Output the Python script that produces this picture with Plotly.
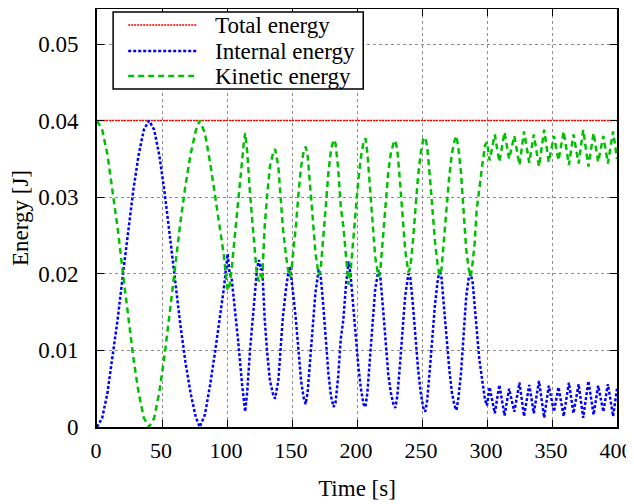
import plotly.graph_objects as go

# ---- data ----
time_s = [
    0, 4, 8, 12, 16, 20, 24, 28, 32, 36, 40, 44, 48, 52, 56, 60, 64, 68, 72, 76, 79,
    83, 87, 91, 95, 97.5, 100.5, 102, 103.5, 105, 108.5, 111.5, 113, 114, 115.5, 117.7,
    121.5, 123, 124.5, 126, 127, 129, 131, 133, 135.5, 137, 139.5, 141.5, 143, 145.5,
    147, 148.5, 150, 151.5, 153, 155, 157, 159, 160.5, 162, 164, 166, 168, 170.5,
    172, 174, 176, 178, 180, 182, 183.5, 185.5, 187.5, 189.5, 191.5, 193.5, 195, 197,
    199, 201, 203, 205, 206.5, 208, 210, 212, 214, 216.5, 218, 220, 222, 224, 226,
    228, 229.5, 231, 233, 235, 237, 239.5, 241, 243, 245, 247, 249, 251, 252.5, 254,
    256, 258, 260, 262, 263.5, 265, 267, 269, 271, 273, 275, 276.5, 278, 280, 282,
    284, 286, 287.5, 289, 290.5, 292, 294, 296, 298.5, 300,
    302, 306, 309.5, 313.5, 317, 321, 325, 328.5, 332.5, 336, 340, 344, 347.5, 351.5,
    355, 359, 363, 366.5, 370.5, 374, 378, 382, 385.5, 389.5, 393, 397, 400,
]

internal_energy = [
    0.0000, 0.0012, 0.0044, 0.0090, 0.0142, 0.0200, 0.0258, 0.0310, 0.0355, 0.0388,
    0.0400, 0.0388, 0.0354, 0.0306, 0.0250, 0.0192, 0.0135, 0.0085, 0.0044, 0.0013,
    0.0000, 0.0016, 0.0055, 0.0100, 0.0150, 0.0180, 0.0226, 0.0200, 0.0195, 0.0172,
    0.0114, 0.0057, 0.0030, 0.0020, 0.0045, 0.0100, 0.0175, 0.0205, 0.0218, 0.0205,
    0.0212, 0.0140, 0.0095, 0.0061, 0.0042, 0.0037, 0.0061, 0.0105, 0.0144, 0.0182,
    0.0200, 0.0209, 0.0190, 0.0165, 0.0140, 0.0095, 0.0060, 0.0038, 0.0030, 0.0045,
    0.0085, 0.0130, 0.0175, 0.0205, 0.0198, 0.0160, 0.0115, 0.0070, 0.0040, 0.0026,
    0.0032, 0.0065, 0.0115, 0.0140, 0.0185, 0.0216, 0.0200, 0.0165, 0.0120, 0.0080,
    0.0050, 0.0030, 0.0026, 0.0045, 0.0090, 0.0140, 0.0180, 0.0205, 0.0195, 0.0155,
    0.0110, 0.0070, 0.0045, 0.0030, 0.0025, 0.0040, 0.0080, 0.0125, 0.0170, 0.0200,
    0.0195, 0.0160, 0.0115, 0.0075, 0.0045, 0.0025, 0.0020, 0.0035, 0.0075, 0.0120,
    0.0160, 0.0190, 0.0205, 0.0195, 0.0160, 0.0115, 0.0075, 0.0045, 0.0028, 0.0022,
    0.0038, 0.0070, 0.0120, 0.0170, 0.0195, 0.0200, 0.0188, 0.0160, 0.0123, 0.0090,
    0.0065, 0.0035, 0.0028,
    0.0052, 0.0018, 0.0055, 0.0015, 0.0050, 0.0020, 0.0058, 0.0014, 0.0055, 0.0018,
    0.0060, 0.0012, 0.0054, 0.0020, 0.0052, 0.0014, 0.0058, 0.0018, 0.0056, 0.0012,
    0.0060, 0.0016, 0.0054, 0.0020, 0.0056, 0.0014, 0.0050,
]

kinetic_energy = [
    0.0400, 0.0388, 0.0356, 0.0310, 0.0258, 0.0200, 0.0142, 0.0090, 0.0045, 0.0012,
    0.0000, 0.0012, 0.0046, 0.0094, 0.0150, 0.0208, 0.0265, 0.0315, 0.0356, 0.0387,
    0.0400, 0.0384, 0.0345, 0.0300, 0.0250, 0.0225, 0.0178, 0.0185, 0.0205, 0.0232,
    0.0300, 0.0349, 0.0372, 0.0384, 0.0360, 0.0305, 0.0230, 0.0198, 0.0190, 0.0200,
    0.0192, 0.0262, 0.0305, 0.0340, 0.0358, 0.0363, 0.0340, 0.0298, 0.0260, 0.0222,
    0.0205, 0.0196, 0.0212, 0.0238, 0.0262, 0.0305, 0.0340, 0.0360, 0.0366, 0.0355,
    0.0318, 0.0272, 0.0228, 0.0198, 0.0205, 0.0242, 0.0288, 0.0332, 0.0362, 0.0375,
    0.0370, 0.0338, 0.0288, 0.0262, 0.0218, 0.0186, 0.0202, 0.0238, 0.0282, 0.0322,
    0.0352, 0.0372, 0.0377, 0.0358, 0.0312, 0.0262, 0.0222, 0.0196, 0.0206, 0.0248,
    0.0292, 0.0332, 0.0357, 0.0370, 0.0374, 0.0362, 0.0322, 0.0278, 0.0232, 0.0202,
    0.0208, 0.0242, 0.0288, 0.0328, 0.0357, 0.0376, 0.0378, 0.0366, 0.0328, 0.0282,
    0.0242, 0.0212, 0.0198, 0.0206, 0.0242, 0.0288, 0.0328, 0.0357, 0.0374, 0.0380,
    0.0364, 0.0332, 0.0282, 0.0232, 0.0206, 0.0196, 0.0215, 0.0240, 0.0282, 0.0312,
    0.0337, 0.0368, 0.0372,
    0.0348, 0.0382, 0.0346, 0.0385, 0.0350, 0.0380, 0.0342, 0.0386, 0.0345, 0.0382,
    0.0340, 0.0388, 0.0346, 0.0380, 0.0348, 0.0386, 0.0342, 0.0382, 0.0344, 0.0388,
    0.0340, 0.0384, 0.0346, 0.0380, 0.0344, 0.0386, 0.0350,
]

total_t = [0, 400]
total_energy = [0.0400, 0.0400]

series_names = ["Total energy", "Internal energy", "Kinetic energy"]

x_ticks = [0, 50, 100, 150, 200, 250, 300, 350, 400]
y_ticks = [0, 0.01, 0.02, 0.03, 0.04, 0.05]
y_tick_labels = ["0", "0.01", "0.02", "0.03", "0.04", "0.05"]

FONT = "Liberation Serif, Times New Roman, serif"
styles = [
    dict(color="rgb(255,0,0)", width=1.5, dash="2px,1px"),
    dict(color="rgb(0,0,255)", width=2.5, dash="3px,2px"),
    dict(color="rgb(0,192,0)", width=2.5, dash="6px,4px"),
]

fig = go.Figure()
fig.add_trace(go.Scatter(x=total_t, y=total_energy, mode="lines",
                         name=series_names[0], line=styles[0]))
fig.add_trace(go.Scatter(x=time_s, y=internal_energy, mode="lines",
                         name=series_names[1], line=styles[1]))
fig.add_trace(go.Scatter(x=time_s, y=kinetic_energy, mode="lines",
                         name=series_names[2], line=styles[2]))

axis_common = dict(
    showline=True, linecolor="black", linewidth=2, mirror="ticks",
    ticks="inside", ticklen=7, tickwidth=1, tickcolor="black",
    showgrid=True, gridcolor="rgb(140,140,140)", gridwidth=1, griddash="dot",
    zeroline=False, automargin=False, ticklabeloverflow="allow",
)

fig.update_xaxes(
    range=[0, 400], tickvals=x_ticks, ticklabelstandoff=3, ticklabelshift=-1,
    tickfont=dict(family=FONT, size=22, color="black"),
    title=dict(text="Time [s]", font=dict(family=FONT, size=23, color="black"), standoff=17),
    **axis_common,
)
fig.update_yaxes(
    range=[0, 0.05457], tickvals=y_ticks, ticktext=y_tick_labels, ticklabelstandoff=12,
    tickfont=dict(family=FONT, size=23, color="black"),
    title=dict(text="Energy [J]", font=dict(family=FONT, size=23, color="black"), standoff=8),
    **axis_common,
)

# legend box drawn in the upper-left corner of the plot area (paper coords)
box_x0, box_x1, box_y0, box_y1 = 0.031, 0.512, 0.8086, 0.9928
line_x0, line_x1, text_x = 0.060, 0.192, 0.223
row_y = [0.9617, 0.8995, 0.8397]

shapes = [dict(type="rect", xref="paper", yref="paper", x0=box_x0, x1=box_x1,
               y0=box_y0, y1=box_y1, line=dict(color="black", width=1.5),
               fillcolor="white", layer="above")]
annotations = []
for name, st, ry in zip(series_names, styles, row_y):
    shapes.append(dict(type="line", xref="paper", yref="paper", x0=line_x0, x1=line_x1,
                       y0=ry, y1=ry, line=st, layer="above"))
    annotations.append(dict(xref="paper", yref="paper", x=text_x, y=ry, text=name,
                            showarrow=False, xanchor="left", yanchor="middle",
                            font=dict(family=FONT, size=23, color="black")))

# the page body adds an 8px offset, so the figure is 8px smaller than the window
fig.update_layout(
    width=626, height=496,
    margin=dict(l=89, r=17, t=1, b=77, autoexpand=False),
    paper_bgcolor="white", plot_bgcolor="white",
    font=dict(family=FONT, size=23, color="black"),
    showlegend=False,
    shapes=shapes, annotations=annotations,
)

fig.write_html("out.html")
